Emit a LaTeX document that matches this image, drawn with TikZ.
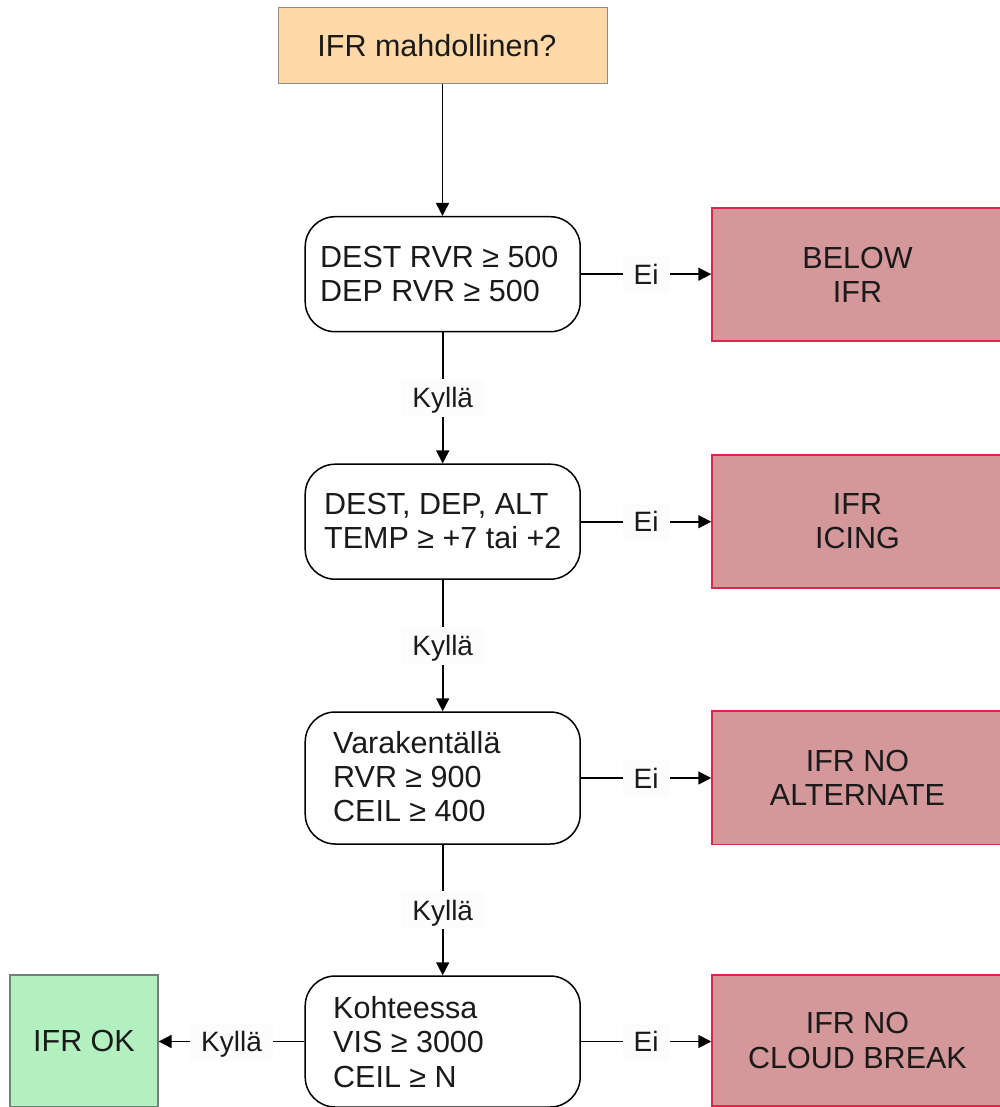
\documentclass[tikz,border=0pt]{standalone}
\usepackage{fontspec}
\setmainfont{Liberation Sans}
\usetikzlibrary{arrows.meta}
\definecolor{topfill}{RGB}{255,217,168}
\definecolor{topline}{RGB}{140,140,140}
\definecolor{redfill}{RGB}{212,152,155}
\definecolor{redline}{RGB}{226,36,76}
\definecolor{greenfill}{RGB}{179,240,192}
\definecolor{greenline}{RGB}{110,130,120}
\definecolor{labelbg}{RGB}{252,252,252}
\definecolor{ink}{RGB}{26,26,26}
\tikzset{
  bigtext/.style={font=\fontsize{30.5}{34.3}\selectfont, text=ink},
  startbox/.style={draw=topline, line width=1pt, fill=topfill, minimum width=329pt, minimum height=76pt, inner sep=0pt, bigtext},
  decbox/.style={draw=black, line width=1.5pt, fill=white, rounded corners=30pt, minimum width=275pt, inner sep=0pt},
  dectext/.style={bigtext, align=left, anchor=west, inner sep=0pt},
  redbox/.style={draw=redline, line width=1.5pt, fill=redfill, minimum width=291pt, inner sep=0pt, align=center, bigtext},
  okbox/.style={draw=greenline, line width=1.2pt, fill=greenfill, minimum width=148pt, minimum height=132pt, inner sep=0pt, bigtext},
  lbl/.style={fill=labelbg, text=ink, font=\fontsize{28}{32}\selectfont, inner xsep=11pt, inner ysep=9pt, text height=20pt, text depth=0pt},
  conn/.style={line width=1.7pt, draw=black, -{Triangle[length=13pt,width=13pt]}}
}
\begin{document}
\begin{tikzpicture}[x=1pt,y=-1pt]
\useasboundingbox (0,0) rectangle (1000,1107);
\clip (0,0) rectangle (1000,1107);

\node[startbox] (start) at (442.5,46) {\hspace*{-11pt}IFR mahdollinen?};

\node[decbox, minimum height=115pt] (d1) at (442.7,274.2) {};
\node[dectext] (d1t) at (320,274.2) {DEST RVR ≥ 500\\DEP RVR ≥ 500};

\node[decbox, minimum height=115pt] (d2) at (442.7,521.7) {};
\node[dectext] (d2t) at (324,521) {DEST, DEP, ALT\\TEMP ≥ +7 tai +2};

\node[decbox, minimum height=132pt] (d3) at (442.7,778) {};
\node[dectext] (d3t) at (333,776.5) {Varakentällä\\RVR ≥ 900\\CEIL ≥ 400};

\node[decbox, minimum height=131pt] (d4) at (442.7,1041.5) {};
\node[dectext] (d4t) at (333,1042) {Kohteessa\\VIS ≥ 3000\\CEIL ≥ N};

\node[redbox, minimum height=133pt] (r1) at (857.5,274.7) {BELOW\\IFR};
\node[redbox, minimum height=133pt] (r2) at (857.5,521.5) {IFR\\ICING};
\node[redbox, minimum height=133.5pt] (r3) at (857.5,777.5) {IFR NO\\ALTERNATE};
\node[redbox, minimum height=131pt] (r4) at (857.5,1040.5) {IFR NO\\CLOUD BREAK};

\node[okbox] (ok) at (84,1041) {IFR OK};

\draw[conn] (start.south) -- (start.south |- d1.north);
\draw[conn] (d1.south) -- node[lbl] {Kyllä} (d2.north);
\draw[conn] (d2.south) -- node[lbl] {Kyllä} (d3.north);
\draw[conn] (d3.south) -- node[lbl] {Kyllä} (d4.north);

\draw[conn] (d1.east) -- node[lbl] {Ei} (d1.east -| r1.west);
\draw[conn] (d2.east) -- node[lbl] {Ei} (d2.east -| r2.west);
\draw[conn] (d3.east) -- node[lbl] {Ei} (d3.east -| r3.west);
\draw[conn] (d4.east) -- node[lbl] {Ei} (d4.east -| r4.west);

\draw[conn] (d4.west) -- node[lbl] {Kyllä} (d4.west -| ok.east);
\end{tikzpicture}
\end{document}
